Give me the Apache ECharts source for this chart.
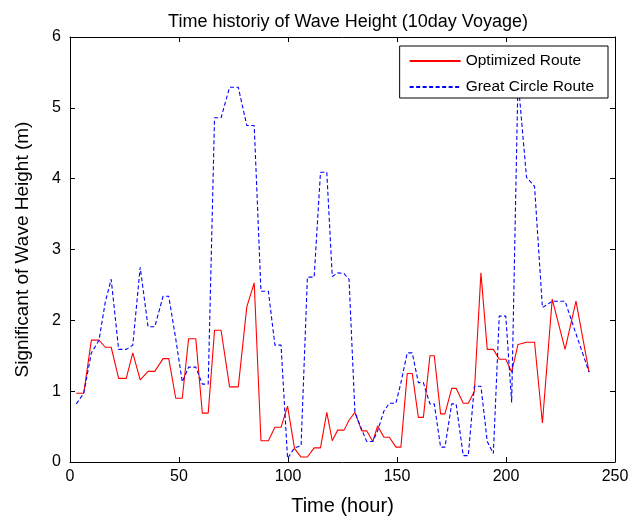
<!DOCTYPE html>
<html>
<head>
<meta charset="utf-8">
<script src="https://cdn.jsdelivr.net/npm/echarts@6/dist/echarts.min.js"></script>
<style>
  html, body { margin: 0; padding: 0; background: #fff; }
  #chart { width: 644px; height: 521px; }
</style>
</head>
<body>
<div id="chart"></div>
<script>
// sample times (hour)
const hours = [
  2.9, 6.3, 9.8, 13.3, 16.2, 18.9, 22.3, 25.8, 28.8, 32.2, 35.8, 38.9, 42.7, 45.3, 48.5, 51.5, 54.4, 57.7,
  60.7, 63.4, 66.3, 69.3, 73.2, 77.2, 81.1, 84.5, 87.6, 91.0, 94.0, 96.8, 99.8, 103.0, 106.0, 108.9, 112.0, 114.9, 117.8,
  120.3, 122.8, 125.7, 128.0, 130.7, 133.8, 136.1, 138.9, 141.1, 144.0, 146.5, 149.5, 151.8, 154.7, 157.0, 159.8, 162.1,
  165.1, 167.1, 170.0, 172.0, 175.1, 177.1,
  180.4, 182.7, 185.5, 188.5, 191.4, 194.2, 196.9, 199.9, 202.6, 205.5, 209.4, 213.1, 216.7, 221.2, 227.1, 232.1, 238.1
];

const optimized = [
  0.97, 0.97, 1.72, 1.72, 1.62, 1.62, 1.18, 1.18, 1.54, 1.16, 1.28, 1.28, 1.46, 1.46, 0.90, 0.90, 1.74, 1.74,
  0.69, 0.69, 1.86, 1.86, 1.06, 1.06, 2.19, 2.53, 0.30, 0.30, 0.49, 0.49, 0.79, 0.19, 0.07, 0.07, 0.20, 0.20, 0.70,
  0.30, 0.45, 0.45, 0.59, 0.70, 0.44, 0.44, 0.29, 0.51, 0.35, 0.35, 0.21, 0.21, 1.25, 1.25, 0.63, 0.63,
  1.50, 1.50, 0.68, 0.68, 1.04, 1.04,
  0.83, 0.83, 1.00, 2.67, 1.59, 1.59, 1.45, 1.45, 1.27, 1.66, 1.69, 1.69, 0.55, 2.30, 1.59, 2.27, 1.27
];

const greatCircle = [
  0.82, 0.97, 1.54, 1.72, 2.26, 2.58, 1.59, 1.59, 1.65, 2.75, 1.91, 1.91, 2.34, 2.34, 1.74, 1.13, 1.34, 1.34,
  1.10, 1.10, 4.86, 4.86, 5.29, 5.29, 4.75, 4.75, 2.41, 2.41, 1.65, 1.65, 0.05, 0.20, 0.23, 2.61, 2.61, 4.09, 4.09,
  2.62, 2.67, 2.66, 2.58, 0.70, 0.46, 0.29, 0.29, 0.44, 0.72, 0.83, 0.83, 1.12, 1.54, 1.54, 1.12, 1.12,
  0.82, 0.82, 0.21, 0.21, 0.82, 0.82,
  0.09, 0.09, 1.07, 1.07, 0.29, 0.12, 2.06, 2.06, 0.84, 5.4, 4.02, 3.89, 2.18, 2.27, 2.27, 1.81, 1.27
];

const seriesNames = ["Optimized Route", "Great Circle Route"];
const xTicks = { min: 0, max: 250, step: 50 };
const yTicks = { min: 0, max: 6, step: 1 };

const FONT = "'Liberation Sans', Arial, Helvetica, sans-serif";

const chart = echarts.init(document.getElementById("chart"), null, { renderer: "canvas" });

const axisCommon = {
  axisLine: { show: true, onZero: false, lineStyle: { color: "#000", width: 1 } },
  axisTick: { show: true, inside: true, length: 5, lineStyle: { color: "#000", width: 1 } },
  splitLine: { show: false },
};

chart.setOption({
  backgroundColor: "#fff",
  animation: false,
  title: {
    text: "Time historiy of Wave Height (10day Voyage)",
    left: 343,
    top: 8,
    textAlign: "center",
    textStyle: { fontFamily: FONT, fontSize: 18, fontWeight: "normal", color: "#000" },
  },
  legend: {
    data: seriesNames,
    orient: "vertical",
    right: 36,
    top: 46,
    padding: [7, 14, 3, 9],
    itemWidth: 51,
    itemHeight: 14,
    itemGap: 10,
    backgroundColor: "#fff",
    borderColor: "#000",
    borderWidth: 1,
    z: 10,
    itemStyle: { opacity: 0 },
    textStyle: { fontFamily: FONT, fontSize: 15.5, color: "#000" },
  },
  grid: { left: 70, right: 29, top: 37, bottom: 56 },
  xAxis: [
    {
      ...axisCommon,
      type: "value",
      min: xTicks.min,
      max: xTicks.max,
      interval: xTicks.step,
      name: "Time (hour)",
      nameLocation: "middle",
      nameGap: 34,
      nameTextStyle: { fontFamily: FONT, fontSize: 20, color: "#000" },
      axisLabel: { fontFamily: FONT, fontSize: 16, color: "#000", margin: 7 },
    },
    {
      ...axisCommon,
      type: "value",
      position: "top",
      min: xTicks.min,
      max: xTicks.max,
      interval: xTicks.step,
      axisLabel: { show: false },
    },
  ],
  yAxis: [
    {
      ...axisCommon,
      type: "value",
      min: yTicks.min,
      max: yTicks.max,
      interval: yTicks.step,
      name: "Significant of Wave Height (m)",
      nameLocation: "middle",
      nameRotate: 90,
      nameGap: 38,
      nameTextStyle: { fontFamily: FONT, fontSize: 19, color: "#000" },
      axisLabel: { fontFamily: FONT, fontSize: 16, color: "#000", margin: 9 },
    },
    {
      ...axisCommon,
      type: "value",
      position: "right",
      min: yTicks.min,
      max: yTicks.max,
      interval: yTicks.step,
      axisLabel: { show: false },
    },
  ],
  series: [
    {
      name: seriesNames[0],
      type: "line",
      symbol: "none",
      color: "#ff0000",
      lineStyle: { color: "#ff0000", width: 1.1, type: "solid" },
      data: hours.map((h, i) => [h, optimized[i]]),
    },
    {
      name: seriesNames[1],
      type: "line",
      symbol: "none",
      color: "#0000ff",
      lineStyle: { color: "#0000ff", width: 1.1, type: [4, 2.5] },
      data: hours.map((h, i) => [h, greatCircle[i]]),
    },
  ],
});
</script>
</body>
</html>
